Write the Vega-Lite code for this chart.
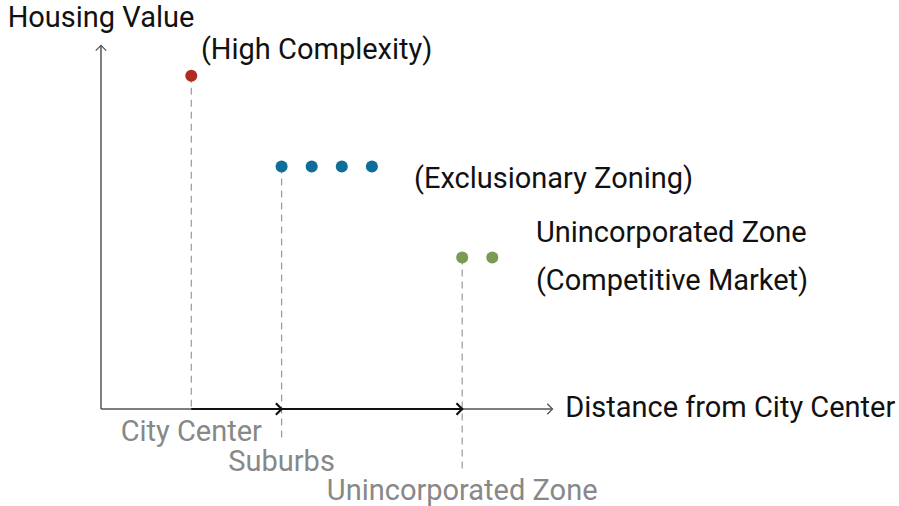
{
  "$schema": "https://vega.github.io/schema/vega-lite/v6.json",
  "width": 899,
  "height": 506,
  "autosize": {"type": "none"},
  "padding": 0,
  "background": "white",
  "config": {"view": {"stroke": null}, "font": "Roboto"},
  "datasets": {
    "axes": [
      {"x": 0, "y": 0, "x2": 15, "y2": 0},
      {"x": 0, "y": 0, "x2": 0, "y2": 12}
    ],
    "flows": [
      {"x": 3, "y": 0, "x2": 6, "y2": 0},
      {"x": 6, "y": 0, "x2": 12, "y2": 0}
    ],
    "axisHeads": [
      {"x": 15, "y": 0, "dir": "right"},
      {"x": 0, "y": 12, "dir": "up"}
    ],
    "flowHeads": [
      {"x": 6, "y": 0},
      {"x": 12, "y": 0}
    ],
    "drops": [
      {"x": 3, "y": 11, "y2": 0},
      {"x": 6, "y": 8, "y2": -1.07},
      {"x": 12, "y": 5, "y2": -2.03}
    ],
    "dots": [
      {"x": 3, "y": 11, "zone": "City Center"},
      {"x": 6, "y": 8, "zone": "Suburbs"},
      {"x": 7, "y": 8, "zone": "Suburbs"},
      {"x": 8, "y": 8, "zone": "Suburbs"},
      {"x": 9, "y": 8, "zone": "Suburbs"},
      {"x": 12, "y": 5, "zone": "Unincorporated Zone"},
      {"x": 13, "y": 5, "zone": "Unincorporated Zone"}
    ],
    "titleText": [
      {"x": 0, "y": 12.61, "text": "Housing Value"}
    ],
    "darkText": [
      {"x": 3.32, "y": 11.55, "text": "(High Complexity)"},
      {"x": 10.4, "y": 7.3, "text": "(Exclusionary Zoning)"},
      {"x": 14.45, "y": 5.5, "text": "Unincorporated Zone"},
      {"x": 14.45, "y": 3.93, "text": "(Competitive Market)"},
      {"x": 15.42, "y": -0.26, "text": "Distance from City Center"}
    ],
    "grayText": [
      {"x": 3, "y": -1.05, "text": "City Center"},
      {"x": 6, "y": -2.04, "text": "Suburbs"},
      {"x": 12, "y": -3.0, "text": "Unincorporated Zone"}
    ]
  },
  "encoding": {
    "x": {"field": "x", "type": "quantitative", "scale": {"domain": [-3.355, 26.512], "nice": false, "zero": false}, "axis": null},
    "y": {"field": "y", "type": "quantitative", "scale": {"domain": [-3.201, 13.498], "nice": false, "zero": false}, "axis": null}
  },
  "layer": [
    {
      "data": {"name": "drops"},
      "mark": {"type": "rule", "color": "#999999", "strokeWidth": 1.2, "strokeDash": [7, 5]},
      "encoding": {"y2": {"field": "y2"}}
    },
    {
      "data": {"name": "axes"},
      "mark": {"type": "rule", "color": "#555555", "strokeWidth": 1.5},
      "encoding": {"x2": {"field": "x2"}, "y2": {"field": "y2"}}
    },
    {
      "data": {"name": "flows"},
      "mark": {"type": "rule", "color": "#111111", "strokeWidth": 2.2},
      "encoding": {"x2": {"field": "x2"}, "y2": {"field": "y2"}}
    },
    {
      "data": {"name": "axisHeads"},
      "transform": [{"filter": "datum.dir == 'right'"}],
      "mark": {"type": "point", "shape": "M -1 -1 L 0 0 L -1 1", "filled": false, "stroke": "#555555", "strokeWidth": 1.3, "size": 110, "opacity": 1}
    },
    {
      "data": {"name": "axisHeads"},
      "transform": [{"filter": "datum.dir == 'up'"}],
      "mark": {"type": "point", "shape": "M -1 1 L 0 0 L 1 1", "filled": false, "stroke": "#555555", "strokeWidth": 1.3, "size": 110, "opacity": 1}
    },
    {
      "data": {"name": "flowHeads"},
      "mark": {"type": "point", "shape": "M -1 -1 L 0 0 L -1 1", "filled": false, "stroke": "#111111", "strokeWidth": 2.2, "size": 130, "opacity": 1}
    },
    {
      "data": {"name": "dots"},
      "mark": {"type": "circle", "size": 145, "opacity": 1},
      "encoding": {
        "color": {
          "field": "zone",
          "type": "nominal",
          "scale": {"domain": ["City Center", "Suburbs", "Unincorporated Zone"], "range": ["#ae2d20", "#0f6e99", "#7b9a55"]},
          "legend": null
        }
      }
    },
    {
      "data": {"name": "titleText"},
      "mark": {"type": "text", "fontSize": 29, "color": "#111111", "baseline": "alphabetic", "align": "center"},
      "encoding": {"text": {"field": "text"}}
    },
    {
      "data": {"name": "darkText"},
      "mark": {"type": "text", "fontSize": 29, "color": "#111111", "baseline": "alphabetic", "align": "left"},
      "encoding": {"text": {"field": "text"}}
    },
    {
      "data": {"name": "grayText"},
      "mark": {"type": "text", "fontSize": 29, "color": "#888888", "baseline": "alphabetic", "align": "center"},
      "encoding": {"text": {"field": "text"}}
    }
  ]
}
